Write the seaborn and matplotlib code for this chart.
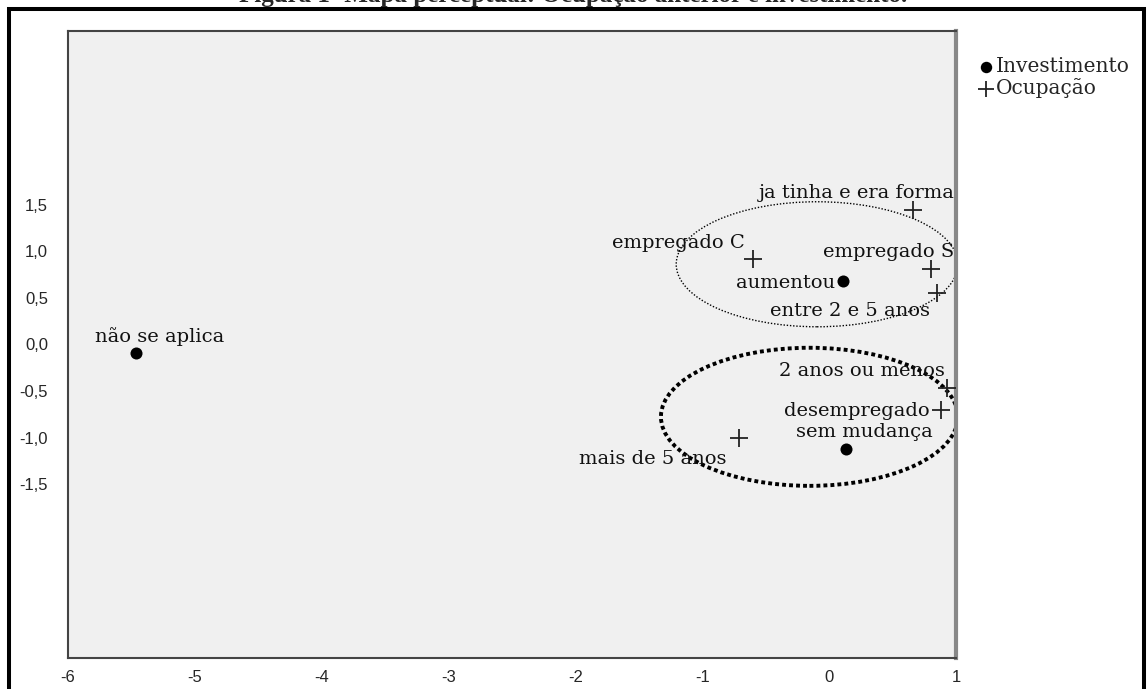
import numpy as np
import pandas as pd
import matplotlib
matplotlib.use("Agg")
import matplotlib.pyplot as plt
import matplotlib.patches as mpatches
import seaborn as sns

inv_labels = ["não se aplica", "aumentou", "sem mudança"]
inv_x = [-5.46, 0.11, 0.13]
inv_y = [-0.09, 0.68, -1.12]

ocu_labels = ["ja tinha e era forma", "empregado C", "empregado S", "entre 2 e 5 anos",
              "2 anos ou menos", "desempregado", "mais de 5 anos"]
ocu_x = [0.66, -0.60, 0.80, 0.85, 0.93, 0.88, -0.71]
ocu_y = [1.44, 0.92, 0.81, 0.55, -0.47, -0.70, -1.00]

x_ticks = [-6, -5, -4, -3, -2, -1, 0, 1]
y_ticks = [-1.5, -1.0, -0.5, 0.0, 0.5, 1.0, 1.5]

# deslocamento dos rotulos (pixels)
inv_offsets = [(23, 16), (-58, -2), (19, 17)]
ocu_offsets = [(-56, 17), (-75, 16), (-42, 17), (-87, -18), (-85, 17), (-84, -1), (-86, -21)]

df_inv = pd.DataFrame({"x": inv_x, "y": inv_y, "rotulo": inv_labels})
df_ocu = pd.DataFrame({"x": ocu_x, "y": ocu_y, "rotulo": ocu_labels})

sns.set_style("white")
serif = ["DejaVu Serif"]

fig = plt.figure(figsize=(11.47, 6.89), dpi=100)
ax = fig.add_axes([0.059, 0.045, 0.7745, 0.910])
ax.set_facecolor("#f0f0f0")

sns.scatterplot(data=df_inv, x="x", y="y", marker="o", color="black", s=75,
                edgecolor="black", linewidth=0, label="Investimento", ax=ax, zorder=3)
sns.scatterplot(data=df_ocu, x="x", y="y", marker="+", color="#222222", s=150,
                linewidth=1.3, label="Ocupação", ax=ax, zorder=3)

for df, offs in [(df_inv, inv_offsets), (df_ocu, ocu_offsets)]:
    for (_, r), (dx, dy) in zip(df.iterrows(), offs):
        ax.annotate(r["rotulo"], (r["x"], r["y"]), xytext=(dx, dy), textcoords="offset pixels",
                    ha="center", va="center", fontsize=14, family=serif, color="#111111")

# elipses de agrupamento
ax.add_patch(mpatches.Ellipse((-0.095, 0.86), 2.22, 1.34, fill=False, color="black",
                              lw=1.0, linestyle=(0, (1, 1.3))))
ax.add_patch(mpatches.Ellipse((-0.155, -0.775), 2.34, 1.48, fill=False, color="black",
                              lw=2.8, linestyle=(0, (1, 0.8))))

ax.set_xlim(-6, 1)
ax.set_ylim(-3.36, 3.36)
ax.set_xticks(x_ticks)
ax.set_xticklabels([str(t) for t in x_ticks], family=["Liberation Sans"], fontsize=12)
ax.set_yticks(y_ticks)
ax.set_yticklabels([f"{t:.1f}".replace(".", ",") for t in y_ticks], family=["Liberation Sans"],
                   fontsize=12)
ax.tick_params(axis="x", direction="out", length=9, width=1.5, color="#333333", pad=0)
ax.tick_params(axis="y", direction="out", length=8, width=1.5, color="#333333", pad=6)
ax.set_xlabel("")
ax.set_ylabel("")
for side in ["left", "bottom", "top"]:
    ax.spines[side].set_color("#444444")
    ax.spines[side].set_linewidth(1.5)
ax.spines["right"].set_color("#888888")
ax.spines["right"].set_linewidth(3)

ax.legend(loc="upper left", bbox_to_anchor=(0.843, 0.932), bbox_transform=fig.transFigure,
          frameon=False, prop={"family": serif, "size": 14.5}, handletextpad=0.05,
          handlelength=0.9, labelspacing=0.1, borderpad=0, markerscale=0.95)

# moldura e titulo
fig.patches.append(mpatches.Rectangle((0.0078, -0.05), 0.9896, 0.987 + 0.05, fill=False,
                                      lw=2.9, edgecolor="black", transform=fig.transFigure))
fig.text(0.5, 1 - 2 / 689, "Figura 1- Mapa perceptual: Ocupação anterior e investimento.",
         ha="center", va="baseline", fontsize=18, fontweight="bold", family=["Liberation Serif"])

fig.savefig("out.png", dpi=100)
